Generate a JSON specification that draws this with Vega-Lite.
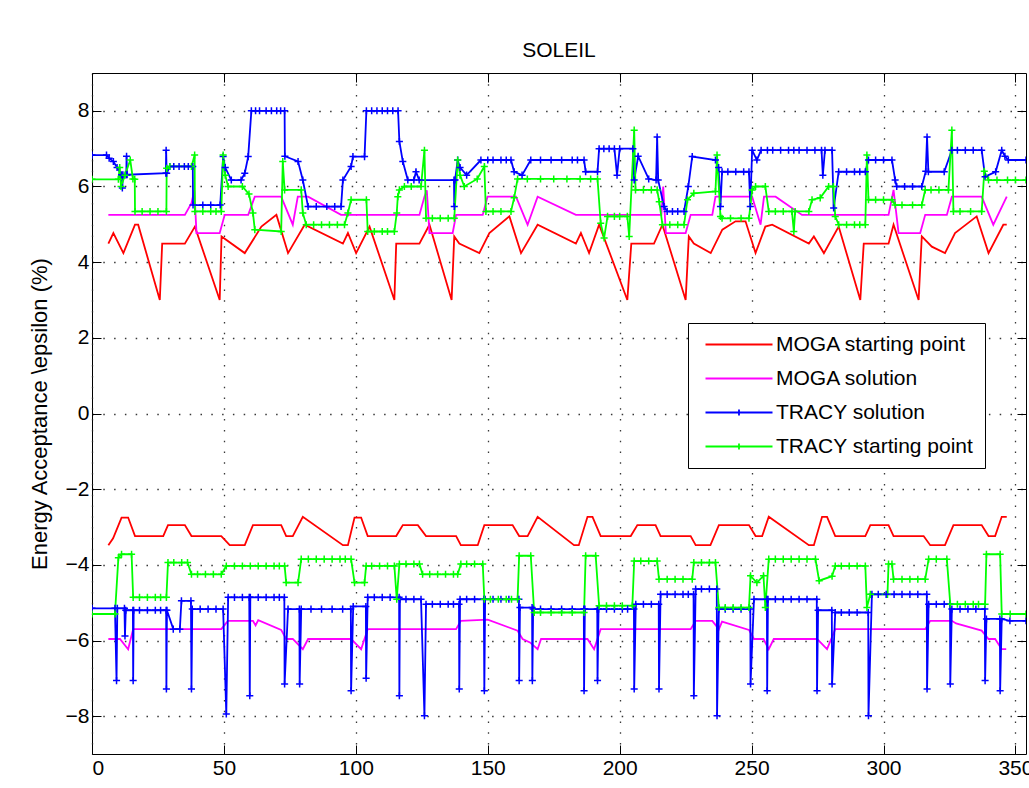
{
"$schema":"https://vega.github.io/schema/vega-lite/v6.json",
"width":934,"height":681,
"autosize":{"type":"none"},
"padding":{"left":92,"top":73,"right":3,"bottom":34},
"background":"white",
"title":{"text":"SOLEIL","fontSize":21,"fontWeight":"normal","font":"Liberation Sans","offset":12,"color":"black"},
"config":{"font":"Liberation Sans","view":{"stroke":"black","strokeWidth":1},
"axis":{"domain":false,"tickColor":"black","tickSize":-9,"tickWidth":1,"labelColor":"black","labelFontSize":21,"labelFont":"Liberation Sans","titleFont":"Liberation Sans","titleFontSize":22,"titleFontWeight":"normal","titleColor":"black","gridColor":"#222","gridWidth":1.3,"gridDash":[1.5,9.3],"gridOpacity":0.9}},
"data":{"values":[
{"k":"a","h":"u","s":6.2,"v":4.49},{"k":"a","h":"u","s":8.1,"v":4.77},{"k":"a","h":"u","s":11.9,"v":4.24},{"k":"a","h":"u","s":16.3,"v":4.99},{"k":"a","h":"u","s":17.5,"v":4.99},{"k":"a","h":"u","s":25.7,"v":3.0},{"k":"a","h":"u","s":26.6,"v":4.49},{"k":"a","h":"u","s":35.2,"v":4.49},{"k":"a","h":"u","s":39.0,"v":4.94},{"k":"a","h":"u","s":48.4,"v":3.0},{"k":"a","h":"u","s":49.1,"v":4.68},{"k":"a","h":"u","s":57.9,"v":4.24},{"k":"a","h":"u","s":64.2,"v":4.94},{"k":"a","h":"u","s":69.9,"v":5.25},{"k":"a","h":"u","s":74.3,"v":4.24},{"k":"a","h":"u","s":80.6,"v":4.99},{"k":"a","h":"u","s":95.1,"v":4.49},{"k":"a","h":"u","s":97.0,"v":4.77},{"k":"a","h":"u","s":100.1,"v":4.24},{"k":"a","h":"u","s":105.2,"v":4.94},{"k":"a","h":"u","s":114.6,"v":3.0},{"k":"a","h":"u","s":115.3,"v":4.49},{"k":"a","h":"u","s":124.1,"v":4.49},{"k":"a","h":"u","s":127.9,"v":4.99},{"k":"a","h":"u","s":136.3,"v":3.0},{"k":"a","h":"u","s":137.3,"v":4.68},{"k":"a","h":"u","s":139.2,"v":4.49},{"k":"a","h":"u","s":146.8,"v":4.24},{"k":"a","h":"u","s":150.6,"v":4.77},{"k":"a","h":"u","s":158.2,"v":5.21},{"k":"a","h":"u","s":162.6,"v":4.24},{"k":"a","h":"u","s":168.9,"v":4.99},{"k":"a","h":"u","s":183.4,"v":4.49},{"k":"a","h":"u","s":185.3,"v":4.77},{"k":"a","h":"u","s":188.4,"v":4.24},{"k":"a","h":"u","s":192.2,"v":4.99},{"k":"a","h":"u","s":202.9,"v":3.0},{"k":"a","h":"u","s":204.4,"v":4.49},{"k":"a","h":"u","s":213.0,"v":4.49},{"k":"a","h":"u","s":216.2,"v":4.99},{"k":"a","h":"u","s":225.0,"v":3.0},{"k":"a","h":"u","s":226.2,"v":4.68},{"k":"a","h":"u","s":228.1,"v":4.49},{"k":"a","h":"u","s":234.5,"v":4.24},{"k":"a","h":"u","s":238.9,"v":4.86},{"k":"a","h":"u","s":243.9,"v":5.08},{"k":"a","h":"u","s":247.7,"v":5.08},{"k":"a","h":"u","s":251.5,"v":4.24},{"k":"a","h":"u","s":255.2,"v":4.94},{"k":"a","h":"u","s":257.8,"v":4.99},{"k":"a","h":"u","s":271.7,"v":4.49},{"k":"a","h":"u","s":273.6,"v":4.68},{"k":"a","h":"u","s":277.4,"v":4.24},{"k":"a","h":"u","s":283.0,"v":4.94},{"k":"a","h":"u","s":291.2,"v":3.0},{"k":"a","h":"u","s":292.5,"v":4.49},{"k":"a","h":"u","s":301.9,"v":4.49},{"k":"a","h":"u","s":303.8,"v":4.99},{"k":"a","h":"u","s":313.3,"v":3.0},{"k":"a","h":"u","s":314.5,"v":4.68},{"k":"a","h":"u","s":318.3,"v":4.41},{"k":"a","h":"u","s":323.3,"v":4.24},{"k":"a","h":"u","s":327.1,"v":4.77},{"k":"a","h":"u","s":335.3,"v":5.21},{"k":"a","h":"u","s":339.8,"v":4.24},{"k":"a","h":"u","s":345.4,"v":4.99},{"k":"a","h":"u","s":346.7,"v":4.99},
{"k":"a","h":"l","s":6.2,"v":-3.48},{"k":"a","h":"l","s":8.0,"v":-3.3},{"k":"a","h":"l","s":11.2,"v":-2.75},{"k":"a","h":"l","s":13.7,"v":-2.75},{"k":"a","h":"l","s":16.3,"v":-3.24},{"k":"a","h":"l","s":27.0,"v":-3.24},{"k":"a","h":"l","s":28.8,"v":-2.95},{"k":"a","h":"l","s":35.2,"v":-2.95},{"k":"a","h":"l","s":37.7,"v":-3.24},{"k":"a","h":"l","s":49.0,"v":-3.24},{"k":"a","h":"l","s":52.2,"v":-3.48},{"k":"a","h":"l","s":57.9,"v":-3.48},{"k":"a","h":"l","s":61.0,"v":-2.95},{"k":"a","h":"l","s":71.7,"v":-2.95},{"k":"a","h":"l","s":73.6,"v":-3.24},{"k":"a","h":"l","s":76.1,"v":-3.24},{"k":"a","h":"l","s":79.9,"v":-2.73},{"k":"a","h":"l","s":95.1,"v":-3.48},{"k":"a","h":"l","s":97.0,"v":-3.48},{"k":"a","h":"l","s":99.5,"v":-2.75},{"k":"a","h":"l","s":102.0,"v":-2.75},{"k":"a","h":"l","s":104.5,"v":-3.24},{"k":"a","h":"l","s":115.3,"v":-3.24},{"k":"a","h":"l","s":117.8,"v":-2.95},{"k":"a","h":"l","s":123.5,"v":-2.95},{"k":"a","h":"l","s":126.6,"v":-3.24},{"k":"a","h":"l","s":138.0,"v":-3.24},{"k":"a","h":"l","s":139.8,"v":-3.48},{"k":"a","h":"l","s":146.2,"v":-3.48},{"k":"a","h":"l","s":148.7,"v":-2.95},{"k":"a","h":"l","s":159.4,"v":-2.95},{"k":"a","h":"l","s":161.9,"v":-3.24},{"k":"a","h":"l","s":165.1,"v":-3.24},{"k":"a","h":"l","s":168.9,"v":-2.73},{"k":"a","h":"l","s":182.7,"v":-3.48},{"k":"a","h":"l","s":184.5,"v":-3.48},{"k":"a","h":"l","s":187.8,"v":-2.73},{"k":"a","h":"l","s":189.7,"v":-2.73},{"k":"a","h":"l","s":192.8,"v":-3.24},{"k":"a","h":"l","s":204.2,"v":-3.24},{"k":"a","h":"l","s":206.7,"v":-2.95},{"k":"a","h":"l","s":213.6,"v":-2.95},{"k":"a","h":"l","s":215.5,"v":-3.24},{"k":"a","h":"l","s":226.9,"v":-3.24},{"k":"a","h":"l","s":228.8,"v":-3.48},{"k":"a","h":"l","s":234.4,"v":-3.48},{"k":"a","h":"l","s":237.6,"v":-2.95},{"k":"a","h":"l","s":249.0,"v":-2.95},{"k":"a","h":"l","s":251.5,"v":-3.24},{"k":"a","h":"l","s":254.0,"v":-3.24},{"k":"a","h":"l","s":256.5,"v":-2.73},{"k":"a","h":"l","s":271.7,"v":-3.48},{"k":"a","h":"l","s":273.6,"v":-3.48},{"k":"a","h":"l","s":276.7,"v":-2.73},{"k":"a","h":"l","s":278.6,"v":-2.73},{"k":"a","h":"l","s":281.7,"v":-3.24},{"k":"a","h":"l","s":293.1,"v":-3.24},{"k":"a","h":"l","s":295.0,"v":-2.95},{"k":"a","h":"l","s":301.9,"v":-2.95},{"k":"a","h":"l","s":303.8,"v":-3.24},{"k":"a","h":"l","s":315.2,"v":-3.24},{"k":"a","h":"l","s":317.7,"v":-3.48},{"k":"a","h":"l","s":323.3,"v":-3.48},{"k":"a","h":"l","s":326.5,"v":-2.95},{"k":"a","h":"l","s":337.2,"v":-2.95},{"k":"a","h":"l","s":339.8,"v":-3.24},{"k":"a","h":"l","s":342.3,"v":-3.24},{"k":"a","h":"l","s":344.8,"v":-2.73},{"k":"a","h":"l","s":346.7,"v":-2.73},
{"k":"b","h":"u","s":6.2,"v":5.25},{"k":"b","h":"u","s":35.2,"v":5.25},{"k":"b","h":"u","s":37.7,"v":5.56},{"k":"b","h":"u","s":38.8,"v":5.9},{"k":"b","h":"u","s":39.6,"v":4.77},{"k":"b","h":"u","s":48.4,"v":4.77},{"k":"b","h":"u","s":50.3,"v":5.25},{"k":"b","h":"u","s":59.2,"v":5.25},{"k":"b","h":"u","s":61.7,"v":5.73},{"k":"b","h":"u","s":71.7,"v":5.73},{"k":"b","h":"u","s":76.1,"v":4.99},{"k":"b","h":"u","s":78.0,"v":5.73},{"k":"b","h":"u","s":81.9,"v":5.73},{"k":"b","h":"u","s":94.4,"v":5.25},{"k":"b","h":"u","s":124.1,"v":5.25},{"k":"b","h":"u","s":126.0,"v":5.73},{"k":"b","h":"u","s":126.9,"v":5.9},{"k":"b","h":"u","s":127.9,"v":4.77},{"k":"b","h":"u","s":136.7,"v":4.77},{"k":"b","h":"u","s":138.0,"v":5.25},{"k":"b","h":"u","s":148.1,"v":5.25},{"k":"b","h":"u","s":149.9,"v":5.73},{"k":"b","h":"u","s":160.7,"v":5.73},{"k":"b","h":"u","s":165.1,"v":4.99},{"k":"b","h":"u","s":168.9,"v":5.73},{"k":"b","h":"u","s":183.4,"v":5.25},{"k":"b","h":"u","s":215.8,"v":5.25},{"k":"b","h":"u","s":216.5,"v":6.0},{"k":"b","h":"u","s":217.5,"v":4.77},{"k":"b","h":"u","s":225.0,"v":4.77},{"k":"b","h":"u","s":226.9,"v":5.25},{"k":"b","h":"u","s":235.1,"v":5.25},{"k":"b","h":"u","s":236.3,"v":5.73},{"k":"b","h":"u","s":250.2,"v":5.73},{"k":"b","h":"u","s":253.4,"v":4.99},{"k":"b","h":"u","s":254.7,"v":5.73},{"k":"b","h":"u","s":259.1,"v":5.73},{"k":"b","h":"u","s":269.1,"v":5.25},{"k":"b","h":"u","s":301.9,"v":5.25},{"k":"b","h":"u","s":303.8,"v":5.91},{"k":"b","h":"u","s":305.7,"v":4.77},{"k":"b","h":"u","s":313.9,"v":4.77},{"k":"b","h":"u","s":315.8,"v":5.25},{"k":"b","h":"u","s":324.0,"v":5.25},{"k":"b","h":"u","s":325.9,"v":5.73},{"k":"b","h":"u","s":337.2,"v":5.73},{"k":"b","h":"u","s":341.6,"v":4.99},{"k":"b","h":"u","s":346.7,"v":5.73},
{"k":"b","h":"l","s":6.2,"v":-5.96},{"k":"b","h":"l","s":10.6,"v":-5.96},{"k":"b","h":"l","s":13.7,"v":-6.23},{"k":"b","h":"l","s":15.6,"v":-5.7},{"k":"b","h":"l","s":49.0,"v":-5.7},{"k":"b","h":"l","s":51.5,"v":-5.48},{"k":"b","h":"l","s":61.0,"v":-5.48},{"k":"b","h":"l","s":62.0,"v":-5.6},{"k":"b","h":"l","s":63.0,"v":-5.46},{"k":"b","h":"l","s":71.7,"v":-5.72},{"k":"b","h":"l","s":73.6,"v":-5.96},{"k":"b","h":"l","s":76.1,"v":-5.96},{"k":"b","h":"l","s":79.9,"v":-6.23},{"k":"b","h":"l","s":81.9,"v":-5.96},{"k":"b","h":"l","s":98.2,"v":-5.96},{"k":"b","h":"l","s":102.0,"v":-6.23},{"k":"b","h":"l","s":104.5,"v":-5.7},{"k":"b","h":"l","s":138.0,"v":-5.7},{"k":"b","h":"l","s":139.8,"v":-5.48},{"k":"b","h":"l","s":150.0,"v":-5.45},{"k":"b","h":"l","s":161.3,"v":-5.74},{"k":"b","h":"l","s":163.2,"v":-5.96},{"k":"b","h":"l","s":166.0,"v":-6.05},{"k":"b","h":"l","s":168.9,"v":-6.23},{"k":"b","h":"l","s":170.2,"v":-5.96},{"k":"b","h":"l","s":187.8,"v":-5.96},{"k":"b","h":"l","s":190.3,"v":-6.23},{"k":"b","h":"l","s":192.8,"v":-5.7},{"k":"b","h":"l","s":226.9,"v":-5.7},{"k":"b","h":"l","s":228.8,"v":-5.48},{"k":"b","h":"l","s":235.1,"v":-5.48},{"k":"b","h":"l","s":237.6,"v":-5.7},{"k":"b","h":"l","s":238.8,"v":-5.5},{"k":"b","h":"l","s":249.0,"v":-5.72},{"k":"b","h":"l","s":250.9,"v":-5.96},{"k":"b","h":"l","s":254.5,"v":-5.96},{"k":"b","h":"l","s":256.5,"v":-6.23},{"k":"b","h":"l","s":258.4,"v":-5.96},{"k":"b","h":"l","s":274.8,"v":-5.96},{"k":"b","h":"l","s":278.6,"v":-6.23},{"k":"b","h":"l","s":281.7,"v":-5.7},{"k":"b","h":"l","s":315.8,"v":-5.7},{"k":"b","h":"l","s":317.7,"v":-5.48},{"k":"b","h":"l","s":325.9,"v":-5.48},{"k":"b","h":"l","s":327.5,"v":-5.55},{"k":"b","h":"l","s":337.2,"v":-5.74},{"k":"b","h":"l","s":339.8,"v":-5.96},{"k":"b","h":"l","s":342.3,"v":-5.96},{"k":"b","h":"l","s":344.8,"v":-6.23},{"k":"b","h":"l","s":346.5,"v":-6.23},
{"k":"c","h":"u","s":0,"v":6.83},{"k":"c","h":"u","s":5.5,"v":6.83},{"k":"c","h":"u","s":6.5,"v":6.75},{"k":"c","h":"u","s":8.1,"v":6.66},{"k":"c","h":"u","s":9.5,"v":6.5},{"k":"c","h":"u","s":11.2,"v":6.31},{"k":"c","h":"u","s":11.5,"v":5.96},{"k":"c","h":"u","s":11.7,"v":6.31},{"k":"c","h":"u","s":13.0,"v":6.31},{"k":"c","h":"u","s":13.1,"v":6.8},{"k":"c","h":"u","s":13.3,"v":6.31},{"k":"c","h":"u","s":28.0,"v":6.35},{"k":"c","h":"u","s":28.1,"v":6.96},{"k":"c","h":"u","s":28.3,"v":6.35},{"k":"c","h":"u","s":29.5,"v":6.53},{"k":"c","h":"u","s":38.2,"v":6.53},{"k":"c","h":"u","s":38.3,"v":5.51},{"k":"c","h":"u","s":48.6,"v":5.51},{"k":"c","h":"u","s":49.7,"v":6.79},{"k":"c","h":"u","s":50.5,"v":6.5},{"k":"c","h":"u","s":52.8,"v":6.17},{"k":"c","h":"u","s":56.5,"v":6.17},{"k":"c","h":"u","s":57.9,"v":6.35},{"k":"c","h":"u","s":59.2,"v":6.79},{"k":"c","h":"u","s":60.4,"v":8.0},{"k":"c","h":"u","s":73.0,"v":8.0},{"k":"c","h":"u","s":73.1,"v":6.8},{"k":"c","h":"u","s":78.1,"v":6.66},{"k":"c","h":"u","s":79.9,"v":6.17},{"k":"c","h":"u","s":81.9,"v":5.47},{"k":"c","h":"u","s":94.4,"v":5.47},{"k":"c","h":"u","s":95.1,"v":6.17},{"k":"c","h":"u","s":98.2,"v":6.53},{"k":"c","h":"u","s":98.9,"v":6.79},{"k":"c","h":"u","s":103.3,"v":6.79},{"k":"c","h":"u","s":104.0,"v":8.0},{"k":"c","h":"u","s":116.0,"v":8.0},{"k":"c","h":"u","s":116.5,"v":7.19},{"k":"c","h":"u","s":117.8,"v":6.66},{"k":"c","h":"u","s":119.7,"v":6.17},{"k":"c","h":"u","s":122.0,"v":6.17},{"k":"c","h":"u","s":122.8,"v":6.39},{"k":"c","h":"u","s":124.0,"v":6.17},{"k":"c","h":"u","s":137.2,"v":6.17},{"k":"c","h":"u","s":137.3,"v":5.47},{"k":"c","h":"u","s":137.6,"v":6.17},{"k":"c","h":"u","s":138.6,"v":6.7},{"k":"c","h":"u","s":139.5,"v":6.5},{"k":"c","h":"u","s":142.0,"v":6.3},{"k":"c","h":"u","s":147.4,"v":6.7},{"k":"c","h":"u","s":158.8,"v":6.7},{"k":"c","h":"u","s":160.0,"v":6.39},{"k":"c","h":"u","s":163.0,"v":6.3},{"k":"c","h":"u","s":166.3,"v":6.7},{"k":"c","h":"u","s":186.5,"v":6.7},{"k":"c","h":"u","s":187.1,"v":6.39},{"k":"c","h":"u","s":191.6,"v":6.39},{"k":"c","h":"u","s":192.2,"v":7.0},{"k":"c","h":"u","s":198.0,"v":7.0},{"k":"c","h":"u","s":199.0,"v":6.3},{"k":"c","h":"u","s":200.0,"v":7.0},{"k":"c","h":"u","s":205.0,"v":7.0},{"k":"c","h":"u","s":205.5,"v":6.17},{"k":"c","h":"u","s":207.0,"v":6.8},{"k":"c","h":"u","s":211.0,"v":6.2},{"k":"c","h":"u","s":213.8,"v":6.17},{"k":"c","h":"u","s":214.2,"v":7.31},{"k":"c","h":"u","s":214.6,"v":6.17},{"k":"c","h":"u","s":216.8,"v":5.47},{"k":"c","h":"u","s":218.0,"v":5.34},{"k":"c","h":"u","s":224.4,"v":5.34},{"k":"c","h":"u","s":226.0,"v":6.0},{"k":"c","h":"u","s":227.5,"v":6.79},{"k":"c","h":"u","s":236.3,"v":6.7},{"k":"c","h":"u","s":237.5,"v":6.5},{"k":"c","h":"u","s":238.2,"v":5.47},{"k":"c","h":"u","s":238.8,"v":6.39},{"k":"c","h":"u","s":249.0,"v":6.39},{"k":"c","h":"u","s":249.5,"v":5.47},{"k":"c","h":"u","s":250.2,"v":6.96},{"k":"c","h":"u","s":252.0,"v":6.7},{"k":"c","h":"u","s":253.6,"v":6.96},{"k":"c","h":"u","s":276.5,"v":6.96},{"k":"c","h":"u","s":277.0,"v":6.3},{"k":"c","h":"u","s":277.8,"v":6.96},{"k":"c","h":"u","s":280.5,"v":6.96},{"k":"c","h":"u","s":281.1,"v":5.43},{"k":"c","h":"u","s":283.0,"v":6.39},{"k":"c","h":"u","s":293.1,"v":6.39},{"k":"c","h":"u","s":294.3,"v":6.7},{"k":"c","h":"u","s":303.2,"v":6.7},{"k":"c","h":"u","s":304.4,"v":6.17},{"k":"c","h":"u","s":305.0,"v":6.0},{"k":"c","h":"u","s":314.5,"v":6.0},{"k":"c","h":"u","s":316.0,"v":6.4},{"k":"c","h":"u","s":316.5,"v":7.31},{"k":"c","h":"u","s":317.0,"v":6.39},{"k":"c","h":"u","s":323.0,"v":6.39},{"k":"c","h":"u","s":325.9,"v":6.96},{"k":"c","h":"u","s":337.2,"v":6.96},{"k":"c","h":"u","s":338.5,"v":6.26},{"k":"c","h":"u","s":342.5,"v":6.39},{"k":"c","h":"u","s":344.8,"v":6.96},{"k":"c","h":"u","s":346.0,"v":6.8},{"k":"c","h":"u","s":347.3,"v":6.7},{"k":"c","h":"u","s":354,"v":6.7},
{"k":"c","h":"l","s":0,"v":-5.15},{"k":"c","h":"l","s":8.7,"v":-5.15},{"k":"c","h":"l","s":9.3,"v":-7.06},{"k":"c","h":"l","s":9.6,"v":-5.15},{"k":"c","h":"l","s":12.3,"v":-5.15},{"k":"c","h":"l","s":12.5,"v":-5.88},{"k":"c","h":"l","s":12.8,"v":-5.2},{"k":"c","h":"l","s":15.5,"v":-5.2},{"k":"c","h":"l","s":15.6,"v":-7.06},{"k":"c","h":"l","s":15.8,"v":-5.2},{"k":"c","h":"l","s":28.1,"v":-5.2},{"k":"c","h":"l","s":28.2,"v":-7.28},{"k":"c","h":"l","s":28.4,"v":-5.2},{"k":"c","h":"l","s":30.8,"v":-5.7},{"k":"c","h":"l","s":33.3,"v":-5.7},{"k":"c","h":"l","s":33.9,"v":-4.95},{"k":"c","h":"l","s":37.5,"v":-4.95},{"k":"c","h":"l","s":37.7,"v":-7.28},{"k":"c","h":"l","s":38.0,"v":-5.17},{"k":"c","h":"l","s":49.7,"v":-5.17},{"k":"c","h":"l","s":50.9,"v":-7.94},{"k":"c","h":"l","s":51.6,"v":-4.86},{"k":"c","h":"l","s":59.6,"v":-4.86},{"k":"c","h":"l","s":59.8,"v":-7.46},{"k":"c","h":"l","s":60.0,"v":-4.86},{"k":"c","h":"l","s":72.9,"v":-4.86},{"k":"c","h":"l","s":73.0,"v":-7.15},{"k":"c","h":"l","s":74.3,"v":-5.17},{"k":"c","h":"l","s":78.6,"v":-5.17},{"k":"c","h":"l","s":78.7,"v":-7.15},{"k":"c","h":"l","s":79.3,"v":-5.17},{"k":"c","h":"l","s":98.1,"v":-5.17},{"k":"c","h":"l","s":98.2,"v":-7.33},{"k":"c","h":"l","s":99.0,"v":-5.1},{"k":"c","h":"l","s":103.8,"v":-5.1},{"k":"c","h":"l","s":103.9,"v":-7.0},{"k":"c","h":"l","s":104.5,"v":-4.86},{"k":"c","h":"l","s":116.4,"v":-4.86},{"k":"c","h":"l","s":116.5,"v":-7.46},{"k":"c","h":"l","s":116.7,"v":-4.91},{"k":"c","h":"l","s":124.7,"v":-4.91},{"k":"c","h":"l","s":126.0,"v":-7.99},{"k":"c","h":"l","s":126.6,"v":-5.04},{"k":"c","h":"l","s":139.1,"v":-5.04},{"k":"c","h":"l","s":139.2,"v":-7.28},{"k":"c","h":"l","s":139.5,"v":-4.91},{"k":"c","h":"l","s":148.5,"v":-4.91},{"k":"c","h":"l","s":148.7,"v":-7.33},{"k":"c","h":"l","s":149.0,"v":-4.91},{"k":"c","h":"l","s":161.8,"v":-4.91},{"k":"c","h":"l","s":161.9,"v":-7.06},{"k":"c","h":"l","s":162.2,"v":-5.13},{"k":"c","h":"l","s":166.8,"v":-5.13},{"k":"c","h":"l","s":166.9,"v":-7.06},{"k":"c","h":"l","s":167.2,"v":-5.17},{"k":"c","h":"l","s":186.4,"v":-5.17},{"k":"c","h":"l","s":186.5,"v":-7.33},{"k":"c","h":"l","s":186.8,"v":-5.17},{"k":"c","h":"l","s":191.5,"v":-5.17},{"k":"c","h":"l","s":191.6,"v":-7.06},{"k":"c","h":"l","s":192.0,"v":-5.17},{"k":"c","h":"l","s":205.4,"v":-5.17},{"k":"c","h":"l","s":205.5,"v":-7.28},{"k":"c","h":"l","s":206.1,"v":-5.04},{"k":"c","h":"l","s":214.8,"v":-5.04},{"k":"c","h":"l","s":214.9,"v":-7.28},{"k":"c","h":"l","s":215.5,"v":-4.78},{"k":"c","h":"l","s":228.0,"v":-4.78},{"k":"c","h":"l","s":228.1,"v":-7.46},{"k":"c","h":"l","s":228.8,"v":-4.64},{"k":"c","h":"l","s":236.8,"v":-4.64},{"k":"c","h":"l","s":236.9,"v":-7.99},{"k":"c","h":"l","s":237.6,"v":-5.17},{"k":"c","h":"l","s":249.5,"v":-5.17},{"k":"c","h":"l","s":249.6,"v":-7.15},{"k":"c","h":"l","s":250.9,"v":-4.91},{"k":"c","h":"l","s":255.8,"v":-4.91},{"k":"c","h":"l","s":255.9,"v":-7.33},{"k":"c","h":"l","s":256.2,"v":-4.91},{"k":"c","h":"l","s":274.7,"v":-4.91},{"k":"c","h":"l","s":274.8,"v":-7.33},{"k":"c","h":"l","s":275.2,"v":-5.2},{"k":"c","h":"l","s":280.4,"v":-5.2},{"k":"c","h":"l","s":280.5,"v":-7.15},{"k":"c","h":"l","s":281.7,"v":-5.26},{"k":"c","h":"l","s":294.2,"v":-5.26},{"k":"c","h":"l","s":294.3,"v":-7.99},{"k":"c","h":"l","s":295.6,"v":-4.78},{"k":"c","h":"l","s":316.4,"v":-4.78},{"k":"c","h":"l","s":316.5,"v":-7.28},{"k":"c","h":"l","s":317.1,"v":-5.04},{"k":"c","h":"l","s":325.2,"v":-5.04},{"k":"c","h":"l","s":325.3,"v":-7.15},{"k":"c","h":"l","s":325.9,"v":-5.17},{"k":"c","h":"l","s":338.4,"v":-5.17},{"k":"c","h":"l","s":338.5,"v":-7.06},{"k":"c","h":"l","s":339.0,"v":-5.43},{"k":"c","h":"l","s":344.1,"v":-5.43},{"k":"c","h":"l","s":344.2,"v":-7.33},{"k":"c","h":"l","s":344.8,"v":-5.43},{"k":"c","h":"l","s":347.9,"v":-5.48},{"k":"c","h":"l","s":354,"v":-5.48},
{"k":"d","h":"u","s":0,"v":6.19},{"k":"d","h":"u","s":10.0,"v":6.19},{"k":"d","h":"u","s":10.5,"v":6.5},{"k":"d","h":"u","s":11.0,"v":6.0},{"k":"d","h":"u","s":12.5,"v":6.3},{"k":"d","h":"u","s":14.5,"v":6.7},{"k":"d","h":"u","s":15.5,"v":6.2},{"k":"d","h":"u","s":16.2,"v":6.19},{"k":"d","h":"u","s":16.3,"v":5.34},{"k":"d","h":"u","s":28.2,"v":5.34},{"k":"d","h":"u","s":28.3,"v":6.48},{"k":"d","h":"u","s":29.5,"v":6.53},{"k":"d","h":"u","s":37.7,"v":6.53},{"k":"d","h":"u","s":38.9,"v":6.83},{"k":"d","h":"u","s":39.0,"v":5.34},{"k":"d","h":"u","s":49.0,"v":5.34},{"k":"d","h":"u","s":49.7,"v":6.83},{"k":"d","h":"u","s":50.5,"v":6.3},{"k":"d","h":"u","s":51.6,"v":6.0},{"k":"d","h":"u","s":57.0,"v":6.0},{"k":"d","h":"u","s":59.5,"v":5.8},{"k":"d","h":"u","s":61.0,"v":5.3},{"k":"d","h":"u","s":61.7,"v":4.86},{"k":"d","h":"u","s":71.7,"v":4.81},{"k":"d","h":"u","s":72.3,"v":6.66},{"k":"d","h":"u","s":73.0,"v":5.91},{"k":"d","h":"u","s":79.3,"v":5.91},{"k":"d","h":"u","s":79.9,"v":5.3},{"k":"d","h":"u","s":81.2,"v":4.99},{"k":"d","h":"u","s":95.7,"v":4.99},{"k":"d","h":"u","s":97.0,"v":5.3},{"k":"d","h":"u","s":98.2,"v":5.65},{"k":"d","h":"u","s":104.0,"v":5.65},{"k":"d","h":"u","s":104.5,"v":4.81},{"k":"d","h":"u","s":114.6,"v":4.81},{"k":"d","h":"u","s":115.5,"v":5.3},{"k":"d","h":"u","s":115.9,"v":5.73},{"k":"d","h":"u","s":116.5,"v":5.91},{"k":"d","h":"u","s":118.4,"v":6.0},{"k":"d","h":"u","s":124.7,"v":6.0},{"k":"d","h":"u","s":126.0,"v":6.96},{"k":"d","h":"u","s":126.6,"v":5.16},{"k":"d","h":"u","s":137.3,"v":5.16},{"k":"d","h":"u","s":138.6,"v":6.7},{"k":"d","h":"u","s":139.5,"v":6.3},{"k":"d","h":"u","s":141.1,"v":6.0},{"k":"d","h":"u","s":146.0,"v":6.2},{"k":"d","h":"u","s":148.7,"v":6.53},{"k":"d","h":"u","s":149.3,"v":5.34},{"k":"d","h":"u","s":158.8,"v":5.34},{"k":"d","h":"u","s":160.0,"v":5.7},{"k":"d","h":"u","s":161.3,"v":6.2},{"k":"d","h":"u","s":191.6,"v":6.2},{"k":"d","h":"u","s":192.8,"v":5.03},{"k":"d","h":"u","s":194.1,"v":4.64},{"k":"d","h":"u","s":195.4,"v":5.21},{"k":"d","h":"u","s":202.9,"v":5.21},{"k":"d","h":"u","s":203.6,"v":4.68},{"k":"d","h":"u","s":205.5,"v":7.49},{"k":"d","h":"u","s":206.0,"v":5.91},{"k":"d","h":"u","s":214.2,"v":5.91},{"k":"d","h":"u","s":215.0,"v":5.6},{"k":"d","h":"u","s":216.2,"v":4.99},{"k":"d","h":"u","s":224.4,"v":4.99},{"k":"d","h":"u","s":225.7,"v":5.65},{"k":"d","h":"u","s":228.1,"v":5.82},{"k":"d","h":"u","s":236.3,"v":5.87},{"k":"d","h":"u","s":236.9,"v":6.83},{"k":"d","h":"u","s":238.2,"v":5.21},{"k":"d","h":"u","s":238.8,"v":5.16},{"k":"d","h":"u","s":249.0,"v":5.16},{"k":"d","h":"u","s":250.2,"v":5.91},{"k":"d","h":"u","s":251.5,"v":6.0},{"k":"d","h":"u","s":255.2,"v":6.0},{"k":"d","h":"u","s":256.5,"v":5.34},{"k":"d","h":"u","s":265.3,"v":5.34},{"k":"d","h":"u","s":266.0,"v":4.81},{"k":"d","h":"u","s":266.5,"v":5.34},{"k":"d","h":"u","s":271.7,"v":5.34},{"k":"d","h":"u","s":272.9,"v":5.65},{"k":"d","h":"u","s":276.0,"v":5.7},{"k":"d","h":"u","s":279.2,"v":6.0},{"k":"d","h":"u","s":281.0,"v":6.0},{"k":"d","h":"u","s":281.7,"v":5.21},{"k":"d","h":"u","s":283.0,"v":4.99},{"k":"d","h":"u","s":293.1,"v":4.99},{"k":"d","h":"u","s":293.7,"v":6.83},{"k":"d","h":"u","s":294.3,"v":5.65},{"k":"d","h":"u","s":303.2,"v":5.65},{"k":"d","h":"u","s":304.4,"v":5.51},{"k":"d","h":"u","s":314.5,"v":5.51},{"k":"d","h":"u","s":315.8,"v":5.91},{"k":"d","h":"u","s":324.6,"v":5.91},{"k":"d","h":"u","s":325.9,"v":7.49},{"k":"d","h":"u","s":326.5,"v":5.34},{"k":"d","h":"u","s":337.2,"v":5.34},{"k":"d","h":"u","s":338.2,"v":6.4},{"k":"d","h":"u","s":339.8,"v":6.17},{"k":"d","h":"u","s":354,"v":6.17},
{"k":"d","h":"l","s":0,"v":-5.3},{"k":"d","h":"l","s":8.7,"v":-5.3},{"k":"d","h":"l","s":10.0,"v":-3.81},{"k":"d","h":"l","s":11.2,"v":-3.72},{"k":"d","h":"l","s":15.0,"v":-3.72},{"k":"d","h":"l","s":15.6,"v":-4.86},{"k":"d","h":"l","s":28.2,"v":-4.86},{"k":"d","h":"l","s":28.8,"v":-3.94},{"k":"d","h":"l","s":36.2,"v":-3.94},{"k":"d","h":"l","s":37.7,"v":-4.25},{"k":"d","h":"l","s":49.0,"v":-4.25},{"k":"d","h":"l","s":50.9,"v":-4.03},{"k":"d","h":"l","s":73.0,"v":-4.03},{"k":"d","h":"l","s":73.6,"v":-4.47},{"k":"d","h":"l","s":78.1,"v":-4.47},{"k":"d","h":"l","s":79.3,"v":-3.85},{"k":"d","h":"l","s":98.2,"v":-3.85},{"k":"d","h":"l","s":99.5,"v":-4.47},{"k":"d","h":"l","s":103.3,"v":-4.47},{"k":"d","h":"l","s":103.9,"v":-4.03},{"k":"d","h":"l","s":114.6,"v":-4.03},{"k":"d","h":"l","s":115.5,"v":-4.91},{"k":"d","h":"l","s":116.5,"v":-3.98},{"k":"d","h":"l","s":124.1,"v":-3.98},{"k":"d","h":"l","s":125.3,"v":-4.25},{"k":"d","h":"l","s":138.6,"v":-4.25},{"k":"d","h":"l","s":139.8,"v":-3.98},{"k":"d","h":"l","s":148.1,"v":-3.98},{"k":"d","h":"l","s":148.7,"v":-4.91},{"k":"d","h":"l","s":161.3,"v":-4.91},{"k":"d","h":"l","s":161.9,"v":-3.76},{"k":"d","h":"l","s":166.3,"v":-3.76},{"k":"d","h":"l","s":167.6,"v":-5.26},{"k":"d","h":"l","s":186.5,"v":-5.26},{"k":"d","h":"l","s":187.1,"v":-3.76},{"k":"d","h":"l","s":190.9,"v":-3.76},{"k":"d","h":"l","s":192.2,"v":-5.08},{"k":"d","h":"l","s":204.8,"v":-5.08},{"k":"d","h":"l","s":205.5,"v":-3.9},{"k":"d","h":"l","s":214.2,"v":-3.9},{"k":"d","h":"l","s":214.9,"v":-4.38},{"k":"d","h":"l","s":227.5,"v":-4.38},{"k":"d","h":"l","s":228.1,"v":-3.94},{"k":"d","h":"l","s":236.3,"v":-3.94},{"k":"d","h":"l","s":237.6,"v":-5.13},{"k":"d","h":"l","s":249.0,"v":-5.13},{"k":"d","h":"l","s":249.6,"v":-4.29},{"k":"d","h":"l","s":252.0,"v":-4.47},{"k":"d","h":"l","s":254.5,"v":-4.29},{"k":"d","h":"l","s":255.2,"v":-5.13},{"k":"d","h":"l","s":256.5,"v":-3.85},{"k":"d","h":"l","s":274.2,"v":-3.85},{"k":"d","h":"l","s":275.6,"v":-4.42},{"k":"d","h":"l","s":280.5,"v":-4.3},{"k":"d","h":"l","s":281.7,"v":-4.03},{"k":"d","h":"l","s":293.1,"v":-4.03},{"k":"d","h":"l","s":293.7,"v":-5.13},{"k":"d","h":"l","s":295.0,"v":-4.78},{"k":"d","h":"l","s":301.5,"v":-4.78},{"k":"d","h":"l","s":301.9,"v":-3.98},{"k":"d","h":"l","s":303.2,"v":-3.98},{"k":"d","h":"l","s":303.8,"v":-4.38},{"k":"d","h":"l","s":315.8,"v":-4.38},{"k":"d","h":"l","s":317.1,"v":-3.85},{"k":"d","h":"l","s":324.0,"v":-3.85},{"k":"d","h":"l","s":325.3,"v":-5.04},{"k":"d","h":"l","s":338.5,"v":-5.04},{"k":"d","h":"l","s":339.0,"v":-3.72},{"k":"d","h":"l","s":344.2,"v":-3.72},{"k":"d","h":"l","s":344.8,"v":-5.3},{"k":"d","h":"l","s":354,"v":-5.3},
{"k":"c","h":"u","s":62,"v":8.0},{"k":"c","h":"u","s":63.5,"v":8.0},{"k":"c","h":"u","s":66,"v":8.0},{"k":"c","h":"u","s":68,"v":8.0},{"k":"c","h":"u","s":70,"v":8.0},{"k":"c","h":"u","s":71.5,"v":8.0},{"k":"c","h":"u","s":106,"v":8.0},{"k":"c","h":"u","s":108,"v":8.0},{"k":"c","h":"u","s":110,"v":8.0},{"k":"c","h":"u","s":112,"v":8.0},{"k":"c","h":"u","s":114,"v":8.0},{"k":"c","h":"u","s":31,"v":6.53},{"k":"c","h":"u","s":33,"v":6.53},{"k":"c","h":"u","s":35,"v":6.53},{"k":"c","h":"u","s":36.5,"v":6.53},{"k":"c","h":"u","s":42,"v":5.51},{"k":"c","h":"u","s":45,"v":5.51},{"k":"c","h":"u","s":85,"v":5.47},{"k":"c","h":"u","s":89,"v":5.47},{"k":"c","h":"u","s":92,"v":5.47},{"k":"c","h":"u","s":170,"v":6.7},{"k":"c","h":"u","s":174,"v":6.7},{"k":"c","h":"u","s":178,"v":6.7},{"k":"c","h":"u","s":182,"v":6.7},{"k":"c","h":"u","s":184,"v":6.7},{"k":"c","h":"u","s":150,"v":6.7},{"k":"c","h":"u","s":152,"v":6.7},{"k":"c","h":"u","s":155,"v":6.7},{"k":"c","h":"u","s":157,"v":6.7},{"k":"c","h":"u","s":194,"v":7.0},{"k":"c","h":"u","s":196,"v":7.0},{"k":"c","h":"u","s":256,"v":6.96},{"k":"c","h":"u","s":258,"v":6.96},{"k":"c","h":"u","s":261,"v":6.96},{"k":"c","h":"u","s":264,"v":6.96},{"k":"c","h":"u","s":266,"v":6.96},{"k":"c","h":"u","s":268,"v":6.96},{"k":"c","h":"u","s":271,"v":6.96},{"k":"c","h":"u","s":274,"v":6.96},{"k":"c","h":"u","s":286,"v":6.39},{"k":"c","h":"u","s":289,"v":6.39},{"k":"c","h":"u","s":291,"v":6.39},{"k":"c","h":"u","s":297,"v":6.7},{"k":"c","h":"u","s":300,"v":6.7},{"k":"c","h":"u","s":308,"v":6.0},{"k":"c","h":"u","s":311,"v":6.0},{"k":"c","h":"u","s":328,"v":6.96},{"k":"c","h":"u","s":331,"v":6.96},{"k":"c","h":"u","s":334,"v":6.96},{"k":"c","h":"u","s":220,"v":5.34},{"k":"c","h":"u","s":222,"v":5.34},{"k":"c","h":"u","s":241,"v":6.39},{"k":"c","h":"u","s":244,"v":6.39},{"k":"c","h":"u","s":247,"v":6.39},
{"k":"d","h":"u","s":19,"v":5.34},{"k":"d","h":"u","s":22,"v":5.34},{"k":"d","h":"u","s":25,"v":5.34},{"k":"d","h":"u","s":42,"v":5.34},{"k":"d","h":"u","s":45,"v":5.34},{"k":"d","h":"u","s":47,"v":5.34},{"k":"d","h":"u","s":84,"v":4.99},{"k":"d","h":"u","s":87,"v":4.99},{"k":"d","h":"u","s":90,"v":4.99},{"k":"d","h":"u","s":93,"v":4.99},{"k":"d","h":"u","s":107,"v":4.81},{"k":"d","h":"u","s":110,"v":4.81},{"k":"d","h":"u","s":112,"v":4.81},{"k":"d","h":"u","s":121,"v":6.0},{"k":"d","h":"u","s":129,"v":5.16},{"k":"d","h":"u","s":132,"v":5.16},{"k":"d","h":"u","s":135,"v":5.16},{"k":"d","h":"u","s":152,"v":5.34},{"k":"d","h":"u","s":155,"v":5.34},{"k":"d","h":"u","s":165,"v":6.2},{"k":"d","h":"u","s":170,"v":6.2},{"k":"d","h":"u","s":175,"v":6.2},{"k":"d","h":"u","s":180,"v":6.2},{"k":"d","h":"u","s":185,"v":6.2},{"k":"d","h":"u","s":189,"v":6.2},{"k":"d","h":"u","s":198,"v":5.21},{"k":"d","h":"u","s":200,"v":5.21},{"k":"d","h":"u","s":209,"v":5.91},{"k":"d","h":"u","s":212,"v":5.91},{"k":"d","h":"u","s":219,"v":4.99},{"k":"d","h":"u","s":222,"v":4.99},{"k":"d","h":"u","s":242,"v":5.16},{"k":"d","h":"u","s":246,"v":5.16},{"k":"d","h":"u","s":259,"v":5.34},{"k":"d","h":"u","s":262,"v":5.34},{"k":"d","h":"u","s":286,"v":4.99},{"k":"d","h":"u","s":289,"v":4.99},{"k":"d","h":"u","s":291,"v":4.99},{"k":"d","h":"u","s":297,"v":5.65},{"k":"d","h":"u","s":300,"v":5.65},{"k":"d","h":"u","s":307,"v":5.51},{"k":"d","h":"u","s":311,"v":5.51},{"k":"d","h":"u","s":318,"v":5.91},{"k":"d","h":"u","s":321,"v":5.91},{"k":"d","h":"u","s":329,"v":5.34},{"k":"d","h":"u","s":333,"v":5.34},{"k":"d","h":"u","s":343,"v":6.17},{"k":"d","h":"u","s":347,"v":6.17},{"k":"d","h":"u","s":350,"v":6.17},
{"k":"c","h":"l","s":18,"v":-5.2},{"k":"c","h":"l","s":21,"v":-5.2},{"k":"c","h":"l","s":24,"v":-5.2},{"k":"c","h":"l","s":26,"v":-5.2},{"k":"c","h":"l","s":41,"v":-5.17},{"k":"c","h":"l","s":44,"v":-5.17},{"k":"c","h":"l","s":47,"v":-5.17},{"k":"c","h":"l","s":54,"v":-4.86},{"k":"c","h":"l","s":57,"v":-4.86},{"k":"c","h":"l","s":63,"v":-4.86},{"k":"c","h":"l","s":66,"v":-4.86},{"k":"c","h":"l","s":69,"v":-4.86},{"k":"c","h":"l","s":71,"v":-4.86},{"k":"c","h":"l","s":83,"v":-5.17},{"k":"c","h":"l","s":87,"v":-5.17},{"k":"c","h":"l","s":91,"v":-5.17},{"k":"c","h":"l","s":95,"v":-5.17},{"k":"c","h":"l","s":107,"v":-4.86},{"k":"c","h":"l","s":110,"v":-4.86},{"k":"c","h":"l","s":113,"v":-4.86},{"k":"c","h":"l","s":119,"v":-4.91},{"k":"c","h":"l","s":122,"v":-4.91},{"k":"c","h":"l","s":129,"v":-5.04},{"k":"c","h":"l","s":132,"v":-5.04},{"k":"c","h":"l","s":135,"v":-5.04},{"k":"c","h":"l","s":137,"v":-5.04},{"k":"c","h":"l","s":142,"v":-4.91},{"k":"c","h":"l","s":145,"v":-4.91},{"k":"c","h":"l","s":152,"v":-4.91},{"k":"c","h":"l","s":155,"v":-4.91},{"k":"c","h":"l","s":158,"v":-4.91},{"k":"c","h":"l","s":170,"v":-5.17},{"k":"c","h":"l","s":174,"v":-5.17},{"k":"c","h":"l","s":178,"v":-5.17},{"k":"c","h":"l","s":182,"v":-5.17},{"k":"c","h":"l","s":195,"v":-5.17},{"k":"c","h":"l","s":198,"v":-5.17},{"k":"c","h":"l","s":201,"v":-5.17},{"k":"c","h":"l","s":203,"v":-5.17},{"k":"c","h":"l","s":209,"v":-5.04},{"k":"c","h":"l","s":212,"v":-5.04},{"k":"c","h":"l","s":218,"v":-4.78},{"k":"c","h":"l","s":221,"v":-4.78},{"k":"c","h":"l","s":224,"v":-4.78},{"k":"c","h":"l","s":226,"v":-4.78},{"k":"c","h":"l","s":231,"v":-4.64},{"k":"c","h":"l","s":234,"v":-4.64},{"k":"c","h":"l","s":240,"v":-5.17},{"k":"c","h":"l","s":243,"v":-5.17},{"k":"c","h":"l","s":246,"v":-5.17},{"k":"c","h":"l","s":259,"v":-4.91},{"k":"c","h":"l","s":262,"v":-4.91},{"k":"c","h":"l","s":265,"v":-4.91},{"k":"c","h":"l","s":268,"v":-4.91},{"k":"c","h":"l","s":271,"v":-4.91},{"k":"c","h":"l","s":284,"v":-5.26},{"k":"c","h":"l","s":287,"v":-5.26},{"k":"c","h":"l","s":290,"v":-5.26},{"k":"c","h":"l","s":298,"v":-4.78},{"k":"c","h":"l","s":301,"v":-4.78},{"k":"c","h":"l","s":304,"v":-4.78},{"k":"c","h":"l","s":307,"v":-4.78},{"k":"c","h":"l","s":310,"v":-4.78},{"k":"c","h":"l","s":313,"v":-4.78},{"k":"c","h":"l","s":320,"v":-5.04},{"k":"c","h":"l","s":323,"v":-5.04},{"k":"c","h":"l","s":329,"v":-5.17},{"k":"c","h":"l","s":332,"v":-5.17},{"k":"c","h":"l","s":335,"v":-5.17},
{"k":"d","h":"l","s":18,"v":-4.86},{"k":"d","h":"l","s":21,"v":-4.86},{"k":"d","h":"l","s":24,"v":-4.86},{"k":"d","h":"l","s":26,"v":-4.86},{"k":"d","h":"l","s":31,"v":-3.94},{"k":"d","h":"l","s":34,"v":-3.94},{"k":"d","h":"l","s":40,"v":-4.25},{"k":"d","h":"l","s":43,"v":-4.25},{"k":"d","h":"l","s":46,"v":-4.25},{"k":"d","h":"l","s":54,"v":-4.03},{"k":"d","h":"l","s":57,"v":-4.03},{"k":"d","h":"l","s":60,"v":-4.03},{"k":"d","h":"l","s":63,"v":-4.03},{"k":"d","h":"l","s":66,"v":-4.03},{"k":"d","h":"l","s":69,"v":-4.03},{"k":"d","h":"l","s":71,"v":-4.03},{"k":"d","h":"l","s":82,"v":-3.85},{"k":"d","h":"l","s":85,"v":-3.85},{"k":"d","h":"l","s":88,"v":-3.85},{"k":"d","h":"l","s":91,"v":-3.85},{"k":"d","h":"l","s":94,"v":-3.85},{"k":"d","h":"l","s":96,"v":-3.85},{"k":"d","h":"l","s":106,"v":-4.03},{"k":"d","h":"l","s":109,"v":-4.03},{"k":"d","h":"l","s":112,"v":-4.03},{"k":"d","h":"l","s":119,"v":-3.98},{"k":"d","h":"l","s":122,"v":-3.98},{"k":"d","h":"l","s":128,"v":-4.25},{"k":"d","h":"l","s":131,"v":-4.25},{"k":"d","h":"l","s":134,"v":-4.25},{"k":"d","h":"l","s":137,"v":-4.25},{"k":"d","h":"l","s":142,"v":-3.98},{"k":"d","h":"l","s":145,"v":-3.98},{"k":"d","h":"l","s":151,"v":-4.91},{"k":"d","h":"l","s":154,"v":-4.91},{"k":"d","h":"l","s":157,"v":-4.91},{"k":"d","h":"l","s":159,"v":-4.91},{"k":"d","h":"l","s":170,"v":-5.26},{"k":"d","h":"l","s":174,"v":-5.26},{"k":"d","h":"l","s":178,"v":-5.26},{"k":"d","h":"l","s":182,"v":-5.26},{"k":"d","h":"l","s":195,"v":-5.08},{"k":"d","h":"l","s":198,"v":-5.08},{"k":"d","h":"l","s":201,"v":-5.08},{"k":"d","h":"l","s":208,"v":-3.9},{"k":"d","h":"l","s":211,"v":-3.9},{"k":"d","h":"l","s":218,"v":-4.38},{"k":"d","h":"l","s":221,"v":-4.38},{"k":"d","h":"l","s":224,"v":-4.38},{"k":"d","h":"l","s":231,"v":-3.94},{"k":"d","h":"l","s":234,"v":-3.94},{"k":"d","h":"l","s":240,"v":-5.13},{"k":"d","h":"l","s":243,"v":-5.13},{"k":"d","h":"l","s":246,"v":-5.13},{"k":"d","h":"l","s":259,"v":-3.85},{"k":"d","h":"l","s":262,"v":-3.85},{"k":"d","h":"l","s":265,"v":-3.85},{"k":"d","h":"l","s":268,"v":-3.85},{"k":"d","h":"l","s":271,"v":-3.85},{"k":"d","h":"l","s":284,"v":-4.03},{"k":"d","h":"l","s":287,"v":-4.03},{"k":"d","h":"l","s":290,"v":-4.03},{"k":"d","h":"l","s":307,"v":-4.38},{"k":"d","h":"l","s":310,"v":-4.38},{"k":"d","h":"l","s":313,"v":-4.38},{"k":"d","h":"l","s":320,"v":-3.85},{"k":"d","h":"l","s":328,"v":-5.04},{"k":"d","h":"l","s":331,"v":-5.04},{"k":"d","h":"l","s":334,"v":-5.04},{"k":"d","h":"l","s":336,"v":-5.04},{"k":"d","h":"l","s":348,"v":-5.3}
]},
"resolve":{"axis":{"x":"independent","y":"independent"}},
"layer":[
{"mark":{"type":"line","strokeWidth":1.8,"clip":true},
 "encoding":{
  "x":{"field":"s","type":"quantitative","scale":{"domain":[0,354],"nice":false,"zero":false},
       "axis":{"orient":"bottom","values":[0,50,100,150,200,250,300,350],"grid":true,"title":null,"labelPadding":12}},
  "y":{"field":"v","type":"quantitative","scale":{"domain":[-9,9],"nice":false,"zero":false},
       "axis":{"orient":"left","values":[-8,-6,-4,-2,0,2,4,6,8],"grid":true,"title":"Energy Acceptance \\epsilon (%)","labelPadding":12,"titlePadding":14}},
  "color":{"field":"k","type":"nominal","scale":{"domain":["a","b","c","d"],"range":["#ff0000","#ff00ff","#0000ff","#00ff00"]},
    "legend":{"orient":"none","legendX":596,"legendY":250,"title":null,"strokeColor":"black","fillColor":"white","padding":11,
      "labelFontSize":21,"labelFont":"Liberation Sans","labelColor":"black","labelOffset":56,"labelLimit":0,"rowPadding":12,"symbolSize":100,"symbolStrokeWidth":1.8,
      "labelExpr":"datum.label=='a'?'MOGA starting point':datum.label=='b'?'MOGA solution':datum.label=='c'?'TRACY solution':'TRACY starting point'",
      "encode":{"symbols":{"update":{"shape":{"signal":"datum.value=='c'||datum.value=='d'?'M-0.8,0H12.6M5.9,-0.6V0.6':'M-0.8,0H12.6'"},"fill":{"value":"transparent"}}}}}},
  "detail":{"field":"h"}}},
{"transform":[{"filter":"datum.k=='c'||datum.k=='d'"}],
 "mark":{"type":"point","shape":"M-1,0L1,0M0,-1L0,1","filled":false,"size":50,"strokeWidth":1.5,"opacity":1,"clip":true},
 "encoding":{
  "x":{"field":"s","type":"quantitative","axis":{"orient":"top","values":[0,50,100,150,200,250,300,350],"labels":false,"grid":false,"title":null}},
  "y":{"field":"v","type":"quantitative","axis":{"orient":"right","values":[-8,-6,-4,-2,0,2,4,6,8],"labels":false,"grid":false,"title":null}},
  "color":{"field":"k","type":"nominal","legend":null}}}
]
}
